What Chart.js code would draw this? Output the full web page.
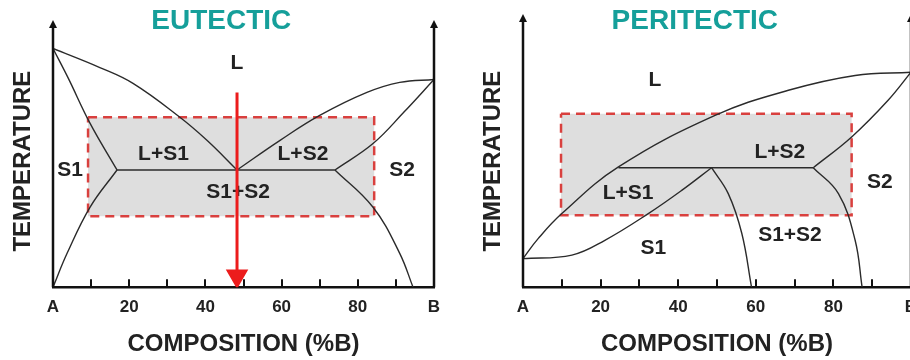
<!DOCTYPE html>
<html>
<head>
<meta charset="utf-8">
<script src="https://cdn.jsdelivr.net/npm/chart.js@4.4.1/dist/chart.umd.min.js"></script>
<style>
  body { margin: 0; background: #fff; overflow: hidden; width: 910px; height: 360px; position: relative; }
  canvas { position: absolute; top: 0; }
  #eut { left: 0; }
  #per { left: 455px; }
</style>
</head>
<body>
<canvas id="eut" width="455" height="360"></canvas>
<canvas id="per" width="475" height="360"></canvas>
<script>
// x: composition %B (0 = A, 100 = B), y: temperature (arbitrary units)
const xTickValues = [0, 20, 40, 60, 80, 100];
const xTickLabels = ['A', '20', '40', '60', '80', 'B'];
const minorTicks = [10, 20, 30, 40, 50, 60, 70, 80, 90];

// eutectic diagram
const eutLiquidusA = [[0, 90.2], [12.3, 83], [21, 77], [33.3, 64.2], [40.4, 55.5], [48.3, 44.3]];
const eutSolidusA = [[0, 90.2], [4, 79], [9.7, 62], [16.8, 44.3]];
const eutSolvusA = [[16.8, 44.3], [9.7, 30.2], [3.7, 12.8], [0, 0]];
const eutLine = [[16.8, 44.3], [74, 44.3]];
const eutLiquidusB = [[100, 78.5], [91, 77.4], [82.4, 73.6], [70, 64.9], [59.6, 55.5], [48.3, 44.3]];
const eutSolidusB = [[100, 78.5], [92, 66], [84, 54.3], [74, 44.3]];
const eutSolvusB = [[74, 44.3], [84, 30.2], [91, 12.8], [94.5, 0]];
const eutArrow = [[48.3, 73.6], [48.3, 4.2]];
const eutBox = [[9.2, 64.2], [84.3, 64.2], [84.3, 26.8], [9.2, 26.8], [9.2, 64.2]];
const eutLabels = ['L', 'L+S1', 'L+S2', 'S1', 'S2', 'S1+S2'];
const eutLabelPos = [[48.3, 84.5], [29, 50.2], [65.6, 50.2], [4.5, 44.2], [91.6, 44.2], [48.6, 35.8]];

// peritectic diagram
const perLiquidus = [[0, 10.6], [3.9, 18], [10, 27.3], [24.6, 44.6], [49.5, 63.7], [68.4, 73], [85.6, 78.5], [100, 79.7]];
const perSolidusS1 = [[0, 10.6], [12.6, 11.9], [21.1, 17.4], [32.3, 27.3], [40.9, 35.9], [48.6, 44.3]];
const perLine = [[24.6, 44.3], [74.8, 44.3]];
const perSolvusS1 = [[48.6, 44.3], [52.9, 34.7], [56.4, 19.9], [58.9, 0]];
const perSolidusS2 = [[74.8, 44.3], [84.7, 55.7], [94.1, 69.3], [100, 79.7]];
const perSolvusS2 = [[74.8, 44.3], [81.3, 34.7], [85.6, 17.4], [87.4, 0]];
const perBox = [[9.8, 64.3], [84.7, 64.3], [84.7, 26.7], [9.8, 26.7], [9.8, 64.3]];
const perLabels = ['L', 'L+S2', 'L+S1', 'S2', 'S1+S2', 'S1'];
const perLabelPos = [[34, 76.7], [66.2, 50.1], [27.1, 34.7], [92, 39], [68.8, 19.3], [33.6, 14.3]];

const FONT = "'Liberation Sans', Arial, sans-serif";
const INK = '#222';

const pts = arr => arr.map(p => ({x: p[0], y: p[1]}));

function curve(arr, tension) {
    return {
        data: pts(arr),
        borderColor: '#2b2b2b',
        borderWidth: 1.4,
        pointRadius: 0,
        tension: tension === undefined ? 0.4 : tension,
        fill: false,
        order: 1
    };
}

function box(arr) {
    return {
        data: pts(arr),
        isRegion: true,
        borderColor: '#d9403e',
        borderWidth: 2.5,
        borderDash: [9, 6],
        backgroundColor: '#dedede',
        fill: 'shape',
        pointRadius: 0,
        tension: 0,
        order: 5
    };
}

// axes extras: B axis, arrow heads, inward ticks, phase labels
const diagramPlugin = {
    id: 'diagram',
    afterDatasetDraw(chart, args, opts) {
        if (!chart.data.datasets[args.index].isRegion) return;
        const {ctx, scales: {x, y}} = chart;
        ctx.save();
        ctx.fillStyle = INK;
        ctx.font = 'bold 21px ' + FONT;
        ctx.textAlign = 'center';
        ctx.textBaseline = 'middle';
        opts.labels.forEach((t, i) => {
            ctx.fillText(t, x.getPixelForValue(opts.labelPos[i][0]), y.getPixelForValue(opts.labelPos[i][1]));
        });
        ctx.restore();
    },
    afterDraw(chart, args, opts) {
        const {ctx, chartArea: a, scales: {x}} = chart;
        ctx.save();
        ctx.strokeStyle = '#111';
        ctx.fillStyle = '#111';
        ctx.lineWidth = 2.5;
        [a.left, a.right].forEach(px => {
            ctx.beginPath();
            ctx.moveTo(px, a.bottom);
            ctx.lineTo(px, opts.tip + 4);
            ctx.stroke();
            ctx.beginPath();
            ctx.moveTo(px, opts.tip);
            ctx.lineTo(px - 4, opts.tip + 8);
            ctx.lineTo(px + 4, opts.tip + 8);
            ctx.closePath();
            ctx.fill();
        });
        ctx.lineWidth = 2;
        minorTicks.forEach(v => {
            const px = Math.round(x.getPixelForValue(v));
            ctx.beginPath();
            ctx.moveTo(px, a.bottom);
            ctx.lineTo(px, a.bottom - 8);
            ctx.stroke();
        });
        ctx.restore();
    }
};

function makeChart(id, cfg) {
    return new Chart(document.getElementById(id), {
        type: 'line',
        data: {datasets: cfg.datasets},
        options: {
            responsive: false,
            animation: false,
            layout: {padding: {left: cfg.padLeft, right: cfg.padRight, top: 0, bottom: 0}},
            scales: {
                x: {
                    type: 'linear',
                    min: 0,
                    max: 100,
                    afterBuildTicks: s => { s.ticks = xTickValues.map(v => ({value: v})); },
                    ticks: {
                        color: INK,
                        font: {family: FONT, size: 17, weight: 'bold'},
                        padding: 10,
                        maxRotation: 0,
                        autoSkip: false,
                        callback: v => xTickLabels[xTickValues.indexOf(v)]
                    },
                    grid: {display: false, drawTicks: false},
                    border: {display: true, color: '#111', width: 2.5},
                    title: {
                        display: true,
                        text: 'COMPOSITION (%B)',
                        color: INK,
                        font: {family: FONT, size: 24, weight: 'bold'},
                        padding: {top: 2.6, bottom: 1}
                    }
                },
                y: {
                    type: 'linear',
                    min: 0,
                    max: cfg.yMax,
                    ticks: {display: false},
                    grid: {display: false, drawTicks: false},
                    border: {display: false},
                    title: {
                        display: true,
                        text: 'TEMPERATURE',
                        color: INK,
                        font: {family: FONT, size: 24, weight: 'bold'},
                        padding: {top: 0, bottom: cfg.yTitleGap}
                    }
                }
            },
            plugins: {
                legend: {display: false},
                tooltip: {enabled: false},
                title: {
                    display: true,
                    text: cfg.title,
                    color: '#159f9a',
                    font: {family: FONT, size: 28, weight: 'bold', lineHeight: 1},
                    padding: {top: 7, bottom: 0}
                },
                diagram: {labels: cfg.labels, labelPos: cfg.labelPos, tip: cfg.tip}
            }
        },
        plugins: [diagramPlugin]
    });
}

makeChart('eut', {
    title: 'EUTECTIC',
    yMax: 95.3,
    padLeft: 8.6,
    padRight: 21,
    yTitleGap: 15.6,
    tip: 20,
    labels: eutLabels,
    labelPos: eutLabelPos,
    datasets: [
        {
            data: pts(eutArrow),
            borderColor: '#ec1c1c',
            borderWidth: 3,
            pointStyle: 'triangle',
            rotation: 180,
            pointRadius: [0, 10],
            pointBackgroundColor: '#ec1c1c',
            pointBorderColor: '#ec1c1c',
            order: 0
        },
        curve(eutLiquidusA), curve(eutSolidusA), curve(eutSolvusA), curve(eutLine, 0),
        curve(eutLiquidusB), curve(eutSolidusB), curve(eutSolvusB),
        box(eutBox)
    ]
});

makeChart('per', {
    title: 'PERITECTIC',
    yMax: 93.5,
    padLeft: 23.6,
    padRight: 19,
    yTitleGap: 15.6,
    tip: 14,
    labels: perLabels,
    labelPos: perLabelPos,
    datasets: [
        curve(perLiquidus), curve(perSolidusS1), curve(perLine, 0), curve(perSolvusS1),
        curve(perSolidusS2), curve(perSolvusS2),
        box(perBox)
    ]
});
</script>
</body>
</html>
